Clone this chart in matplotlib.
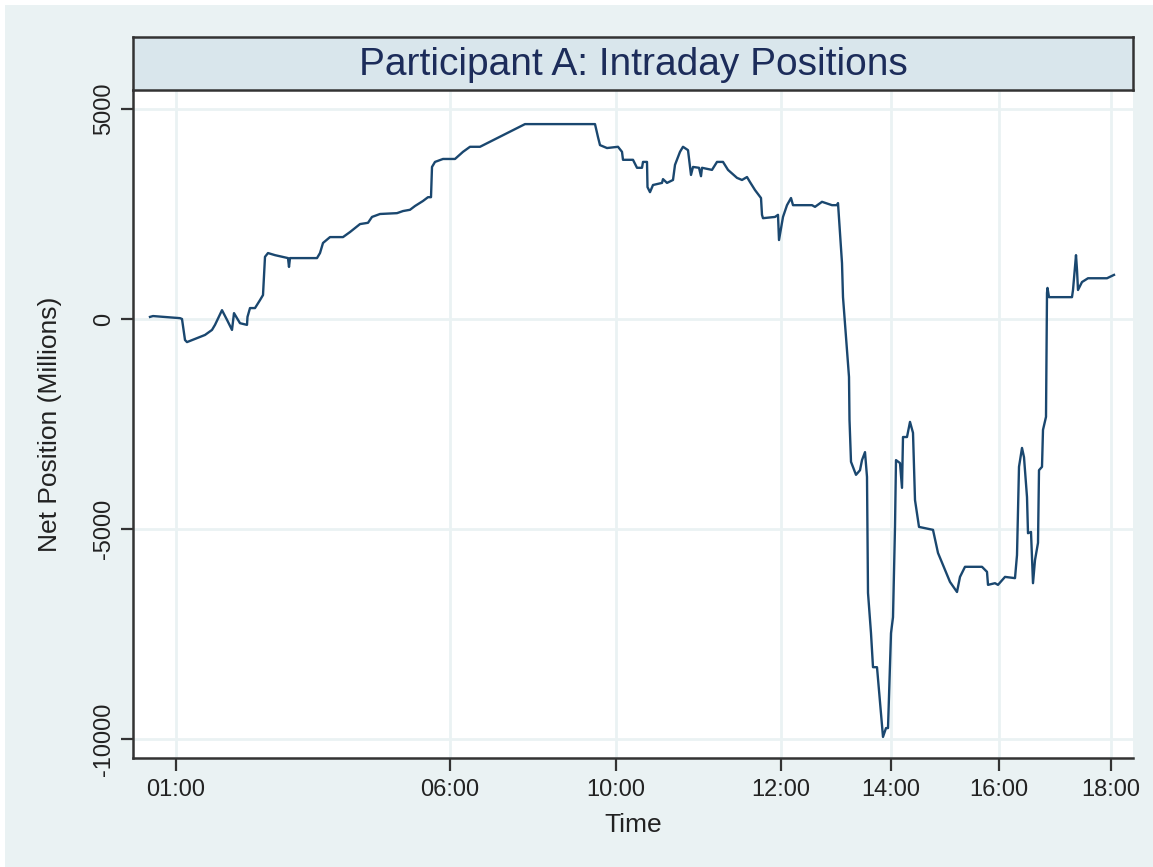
import matplotlib
matplotlib.use("Agg")
import matplotlib.pyplot as plt
from matplotlib.patches import Rectangle

plt.rcParams["font.family"] = ["Liberation Sans", "DejaVu Sans"]

# x is the ordinal position of each observation on the (non-linear) time axis
obs = [17, 20, 47, 49, 52, 54, 72, 79, 82, 89, 94, 99, 101, 107, 114, 114.5,
       117, 122, 127, 130, 132, 135, 142, 155, 156, 157, 184, 187, 190, 197,
       210, 217, 227, 235, 239, 247, 264, 270, 277, 282, 290, 295, 298, 299,
       302, 310, 322, 330, 337, 347, 392, 462, 465, 467, 474, 485, 489, 490,
       500, 504, 509, 510, 514, 514.5, 517, 520, 529, 530, 534, 540, 542, 547,
       550, 555, 558, 560, 566, 568, 569, 579, 584, 590, 595, 604, 609, 614,
       617, 622, 628, 629, 630, 642, 645, 646, 650, 654, 658, 660, 679, 682,
       689, 699, 704, 705, 709, 710, 716, 716.5, 718, 723, 727, 729, 732, 734,
       735, 738, 740, 744, 750, 753, 755, 758, 760, 762, 763, 767, 769, 770,
       774, 777, 780, 782, 786, 800, 805, 817, 824, 827, 832, 849, 854, 855,
       862, 865, 872, 882, 884, 886, 889, 891, 894, 895, 898, 900, 902, 905,
       906, 909, 910, 913, 914, 914.5, 916, 939, 940, 943, 944, 945, 949, 955,
       974, 981]
net_pos = [50, 70, 20, 0, -500, -550, -380, -260, -140, 210, -20, -260, 140,
           -100, -140, 50, 260, 260, 450, 570, 1480, 1570, 1520, 1450, 1240,
           1450, 1450, 1570, 1810, 1950, 1950, 2070, 2260, 2290, 2430, 2500,
           2520, 2570, 2600, 2690, 2810, 2900, 2900, 3620, 3740, 3810, 3810,
           3980, 4100, 4100, 4640, 4640, 4330, 4140, 4070, 4100, 3980, 3790,
           3790, 3600, 3600, 3740, 3740, 3140, 3020, 3190, 3240, 3330, 3240,
           3310, 3670, 3980, 4100, 4020, 3430, 3620, 3600, 3400, 3600, 3550,
           3740, 3740, 3550, 3360, 3310, 3380, 3260, 3070, 2880, 2480, 2400,
           2430, 2480, 1880, 2430, 2710, 2880, 2710, 2710, 2670, 2790, 2710,
           2710, 2760, 1330, 520, -1380, -2400, -3400, -3710, -3600, -3360,
           -3170, -3760, -6520, -7480, -8290, -8290, -9950, -9740, -9740,
           -7480, -7100, -4950, -3360, -3430, -4020, -2810, -2810, -2450,
           -2710, -4310, -4950, -5020, -5570, -6260, -6500, -6140, -5900,
           -5900, -6020, -6330, -6290, -6330, -6140, -6170, -5620, -3520,
           -3070, -3290, -4240, -5100, -5070, -6290, -5740, -5330, -3600,
           -3520, -2640, -2330, 620, 740, 520, 520, 690, 1520, 1170, 690, 880,
           970, 970, 1050]

tick_pos = [43, 317, 483, 648, 758, 866, 978]
tick_labels = ["01:00", "06:00", "10:00", "12:00", "14:00", "16:00", "18:00"]
y_ticks = [5000, 0, -5000, -10000]

navy = "#1a476f"
bg = "#eaf2f3"

fig = plt.figure(figsize=(11.53, 8.67), dpi=100, facecolor="white")
# outer background panel
fig.patches.append(Rectangle((5 / 1153, 0), 1 - 5 / 1153, 1 - 5 / 867,
                             transform=fig.transFigure, facecolor=bg,
                             edgecolor="none", zorder=-10))

ax = fig.add_axes([133 / 1153, 109 / 867, 1000 / 1153, 668 / 867])
ax.set_facecolor("white")
ax.plot(obs, net_pos, color=navy, linewidth=1.7, zorder=3)

ax.set_xlim(0, 1000)
ax.set_ylim(-10452, 5452)
ax.set_xticks(tick_pos, tick_labels)
ax.set_yticks(y_ticks, [str(v) for v in y_ticks])
for lbl in ax.get_yticklabels():
    lbl.set_rotation(90)
    lbl.set_va("center")

ax.grid(True, color=bg, linewidth=2, zorder=0)
ax.tick_params(axis="both", length=9, width=1.6, color="#333333",
               labelsize=17, pad=6, labelcolor="#222222")
ax.tick_params(axis="y", pad=4)
for side in ["top", "right"]:
    ax.spines[side].set_visible(False)
for side in ["left", "bottom"]:
    ax.spines[side].set_color("#333333")
    ax.spines[side].set_linewidth(1.8)

ax.set_xlabel("Time", fontsize=19, labelpad=9, color="#222222")
ax.set_ylabel("Net Position (Millions)", fontsize=19, labelpad=22,
              color="#222222")

# title box like Stata's s2color scheme
tb = fig.add_axes([133 / 1153, 777 / 867, 1000 / 1153, 53 / 867])
tb.set_facecolor("#d9e6ec")
tb.set_xticks([])
tb.set_yticks([])
for s in tb.spines.values():
    s.set_color("#333333")
    s.set_linewidth(1.8)
tb.text(0.5, 0.48, "Participant A: Intraday Positions", transform=tb.transAxes,
        ha="center", va="center", fontsize=28, color="#1c2c5a")

fig.savefig("out.png", dpi=100, facecolor=fig.get_facecolor())
